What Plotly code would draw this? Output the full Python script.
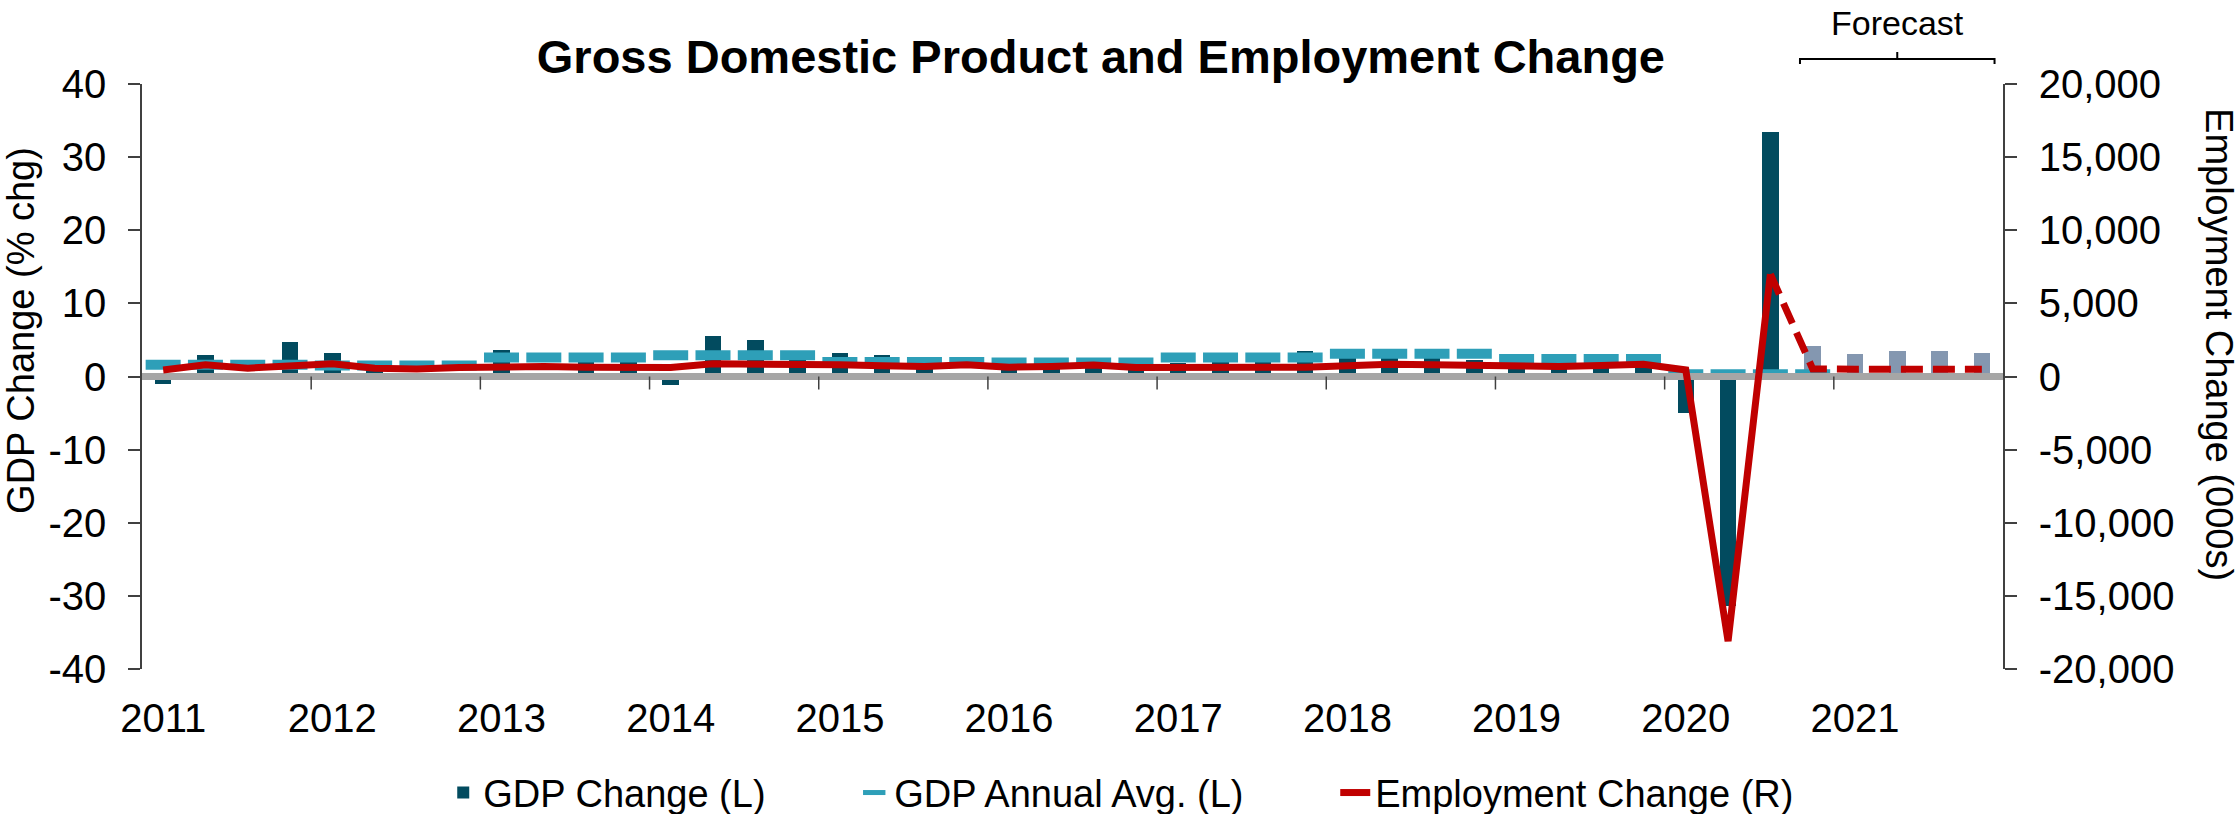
import plotly.graph_objects as go

# ---------------- data ----------------
years = ["2011", "2012", "2013", "2014", "2015", "2016", "2017", "2018", "2019", "2020", "2021"]
quarter_names = ["Q1", "Q2", "Q3", "Q4"]
quarters = [f"{y} {q}" for y in years for q in quarter_names]

# GDP change, annualized % (actual 2011Q1-2020Q3)
gdp_actual = [
    -1.0, 2.9, -0.1, 4.7,
    3.2, 1.7, 0.5, 0.5,
    3.6, 0.5, 3.2, 3.2,
    -1.1, 5.5, 5.0, 2.3,
    3.2, 3.0, 1.3, 0.1,
    2.0, 1.3, 2.2, 2.0,
    1.9, 2.2, 2.9, 3.5,
    3.6, 3.5, 2.9, 2.3,
    2.9, 1.5, 2.6, 2.4,
    -5.0, -31.4, 33.4,
]
# GDP change forecast (2020Q4-2021Q4)
gdp_forecast = [4.2, 3.1, 3.5, 3.5, 3.2]

# GDP annual average, shown on each quarter
gdp_annual_avg = [
    1.6, 1.6, 1.6, 1.6,
    1.5, 1.5, 1.5, 1.5,
    2.6, 2.6, 2.6, 2.6,
    2.9, 2.9, 2.9, 2.9,
    2.0, 2.0, 2.0, 2.0,
    1.9, 1.9, 1.9, 1.9,
    2.6, 2.6, 2.6, 2.6,
    3.1, 3.1, 3.1, 3.1,
    2.4, 2.4, 2.4, 2.4,
    0.3, 0.3, 0.3, 0.3,
    None, None, None, None,
]

# Employment change, thousands (actual 2011Q1-2020Q3)
emp_actual = [
    450, 800, 570, 680,
    870, 570, 520, 610,
    680, 680, 640, 640,
    615, 865, 865, 910,
    800, 730, 680, 800,
    640, 680, 780, 615,
    600, 620, 590, 630,
    730, 840, 800, 730,
    680, 680, 750, 840,
    450, -18100, 7000,
]
# Employment forecast (from 2020Q3 to 2021Q4)
emp_forecast = [7000, 520, 500, 500, 500, 500]

gdp_ticks = [-40, -30, -20, -10, 0, 10, 20, 30, 40]
gdp_tick_labels = ["-40", "-30", "-20", "-10", "0", "10", "20", "30", "40"]
emp_ticks = [-20000, -15000, -10000, -5000, 0, 5000, 10000, 15000, 20000]
emp_tick_labels = ["-20,000", "-15,000", "-10,000", "-5,000", "0", "5,000", "10,000", "15,000", "20,000"]

# ---------------- derived positions ----------------
x_all = list(range(len(quarters)))
n_act = len(gdp_actual)
x_act = x_all[:n_act]
x_fc = x_all[n_act:]
x_emp_fc = x_all[n_act - 1:]
year_tickvals = [i for i, q in enumerate(quarters) if q.endswith("Q1")]
year_bounds = [v - 0.5 for v in year_tickvals[1:]]
x_lo, x_hi = x_all[0] - 0.5, x_all[-1] + 0.5

FONT = "Liberation Sans, Arial, sans-serif"
DARK = "#024B5F"
FC_BAR = "#8497B0"
TEAL = "#2E9FB8"
RED = "#C00000"
GRAY = "#A6A6A6"
AX = "#404040"

fig = go.Figure()

fig.add_trace(go.Bar(x=x_act, y=gdp_actual, name="GDP Change (L)", marker_color=DARK,
                     marker_line_width=0, width=0.39, legendwidth=366))
fig.add_trace(go.Bar(x=x_fc, y=gdp_forecast, name="GDP Change Forecast", marker_color=FC_BAR,
                     marker_line_width=0, width=0.39, showlegend=False))
fig.add_trace(go.Scatter(x=x_all, y=gdp_annual_avg, name="GDP Annual Avg. (L)", mode="markers",
                         legendwidth=436,
                         marker=dict(symbol="line-ew", size=25, color=TEAL,
                                     line=dict(color=TEAL, width=10))))
fig.add_trace(go.Scatter(x=[x_lo, x_hi], y=[0, 0], mode="lines", showlegend=False,
                         line=dict(color=GRAY, width=7), hoverinfo="skip"))
fig.add_trace(go.Scatter(x=x_act, y=emp_actual, name="Employment Change (R)", mode="lines",
                         yaxis="y2", legendwidth=420, line=dict(color=RED, width=7)))
fig.add_trace(go.Scatter(x=x_emp_fc, y=emp_forecast, name="Employment Forecast", mode="lines",
                         yaxis="y2", showlegend=False,
                         line=dict(color=RED, width=7, dash="22px,10px")))

shapes = []
for b in year_bounds:
    shapes.append(dict(type="line", xref="x", yref="y", ysizemode="pixel", yanchor=0,
                       x0=b, x1=b, y0=0, y1=-13, line=dict(color=AX, width=1.5)))

fc0 = x_fc[0] - 0.3
fc1 = x_fc[-1] + 0.3
fcm = (x_fc[0] + x_fc[-1]) / 2
shapes.append(dict(type="path", xref="x", yref="paper",
                   path=f"M {fc0},1.034 L {fc0},1.0427 L {fc1},1.0427 L {fc1},1.034 "
                        f"M {fcm},1.0427 L {fcm},1.0547",
                   line=dict(color="#000000", width=2)))

annotations = [
    dict(text="Forecast", xref="x", yref="paper", x=fcm, y=1.105, xanchor="center",
         yanchor="middle", showarrow=False, font=dict(family=FONT, size=34, color="#000")),
    dict(text="GDP Change (% chg)", xref="paper", yref="paper", x=-0.065, y=0.578,
         textangle=-90, xanchor="center", yanchor="middle", showarrow=False,
         font=dict(family=FONT, size=38, color="#000")),
    dict(text="Employment Change (000s)", xref="paper", yref="paper", x=1.116, y=0.554,
         textangle=90, xanchor="center", yanchor="middle", showarrow=False,
         font=dict(family=FONT, size=38, color="#000")),
]

fig.update_layout(
    width=2239, height=814,
    margin=dict(l=142, r=236, t=84, b=145),
    paper_bgcolor="white", plot_bgcolor="white",
    font=dict(family=FONT, color="#000"),
    title=dict(text="Gross Domestic Product and Employment Change", x=0.4917, xref="container",
               xanchor="center", y=0.93, yref="container", yanchor="middle",
               font=dict(family=FONT, size=47, color="#000", weight="bold")),
    bargap=0, barmode="overlay",
    xaxis=dict(range=[x_lo, x_hi], tickmode="array", tickvals=year_tickvals, ticktext=years,
               ticks="", showline=False, showgrid=False, zeroline=False,
               tickfont=dict(family=FONT, size=40, color="#000"), ticklabelstandoff=22),
    yaxis=dict(range=[-40, 40], tickmode="array", tickvals=gdp_ticks, ticktext=gdp_tick_labels,
               ticks="outside", ticklen=12, tickwidth=1.5, tickcolor=AX,
               showline=True, linecolor=AX, linewidth=1.5, showgrid=False, zeroline=False,
               tickfont=dict(family=FONT, size=40, color="#000"), ticklabelstandoff=14),
    yaxis2=dict(range=[-20000, 20000], overlaying="y", side="right", tickmode="array",
                tickvals=emp_ticks, ticktext=emp_tick_labels,
                ticks="outside", ticklen=12, tickwidth=1.5, tickcolor=AX,
                showline=True, linecolor=AX, linewidth=1.5, showgrid=False, zeroline=False,
                tickfont=dict(family=FONT, size=40, color="#000"), ticklabelstandoff=14),
    legend=dict(orientation="h", xref="container", yref="container", x=0.501, y=0.026,
                xanchor="center", yanchor="middle", font=dict(family=FONT, size=38, color="#000"),
                bgcolor="rgba(0,0,0,0)"),
    shapes=shapes,
    annotations=annotations,
)

fig.write_html("out.html", config={"displayModeBar": False},
               post_script="document.body.style.margin='0';document.body.style.overflow='hidden';")
